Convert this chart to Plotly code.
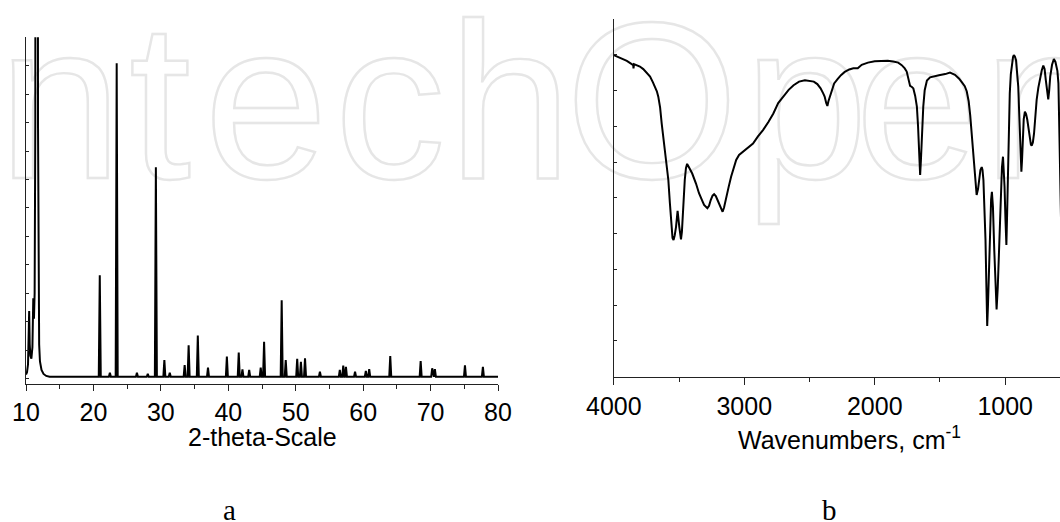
import plotly.graph_objects as go

# ---------------- Panel a : XRD pattern ----------------
# explicit profile of the strong low-angle group (2-theta, intensity)
xrd_low_two_theta = [10.0, 10.15, 10.3, 10.4, 10.47, 10.55, 10.65, 10.8, 10.95, 11.08, 11.18, 11.28,
                     11.38, 11.42, 11.74, 11.78, 11.86, 11.95, 12.07, 12.3, 12.6, 13.0, 13.5]
xrd_low_intensity = [14, 22, 50, 130, 237, 120, 80, 70, 110, 282, 210, 300,
                     900, 2600, 2600, 900, 200, 120, 60, 30, 16, 9, 6]
# sharp reflections
xrd_peak_pos = [20.94, 22.44, 23.45, 26.45, 28.06, 29.26, 30.52, 31.32, 33.53, 34.12, 35.48, 36.99,
                39.79, 41.55, 42.1, 43.1, 44.81, 45.31, 47.92, 48.52, 50.22, 50.77, 51.38, 53.59,
                56.54, 57.05, 57.45, 58.8, 60.4, 60.9, 64.02, 68.53, 70.24, 70.64, 75.1, 77.76]
xrd_peak_int = [363, 20, 1109, 20, 16, 743, 65, 20, 47, 117, 151, 38,
                77, 91, 32, 30, 38, 129, 275, 65, 69, 59, 71, 24,
                30, 45, 41, 24, 27, 33, 79, 61, 36, 33, 46, 41]
xrd_baseline = 6
xrd_end = 80.0

# ---------------- Panel b : IR spectrum ----------------
ir_wavenumber = [4000, 3950, 3900, 3851, 3849, 3845, 3824, 3800, 3774, 3750, 3722, 3700, 3684, 3670,
                 3659, 3645, 3633, 3620, 3608, 3595, 3582, 3570, 3560, 3550, 3542, 3533, 3523, 3511,
                 3498, 3485, 3478, 3472, 3465, 3456, 3447, 3438, 3425, 3399, 3370, 3347, 3320, 3308,
                 3283, 3270, 3257, 3243, 3231, 3218, 3205, 3185, 3166, 3155, 3140, 3120, 3101, 3080,
                 3062, 3040, 3011, 2970, 2933, 2895, 2855, 2815, 2777, 2740, 2700, 2660, 2622, 2580,
                 2535, 2500, 2467, 2440, 2415, 2395, 2384, 2372, 2363, 2355, 2342, 2325, 2311, 2285,
                 2259, 2230, 2195, 2164, 2130, 2100, 2052, 2000, 1947, 1900, 1858, 1820, 1793, 1770,
                 1755, 1740, 1729, 1715, 1704, 1690, 1677, 1668, 1662, 1657, 1652, 1646, 1638, 1628,
                 1617, 1600, 1576, 1550, 1508, 1460, 1423, 1385, 1353, 1330, 1310, 1295, 1280, 1268,
                 1255, 1240, 1228, 1219, 1208, 1198, 1190, 1180, 1174, 1167, 1160, 1151, 1144, 1138,
                 1132, 1125, 1115, 1108, 1102, 1094, 1084, 1075, 1066, 1057, 1047, 1040, 1032, 1025,
                 1017, 1011, 1005, 998, 991, 985, 978, 971, 965, 957, 949, 940, 934, 926, 917,
                 908, 900, 893, 887, 882, 876, 871, 866, 858, 849, 840, 831, 820, 810, 803, 797,
                 788, 779, 770, 759, 746, 733, 720, 708, 698, 689, 680, 670, 663, 655, 641, 627,
                 615, 600, 592, 586, 582, 578, 570]
ir_transmittance = [89.9, 89.2, 88.3, 87.1, 86.2, 87.4, 87.1, 86.7, 86.0, 85.0, 83.9, 82.3, 81.1, 79.8,
                    78.3, 75.2, 70.8, 67.0, 63.4, 59.2, 55.0, 48.5, 42.5, 38.8, 38.2, 39.5, 41.9, 46.4,
                    41.9, 38.4, 40.5, 45.7, 50.5, 55.0, 58.3, 59.5, 58.6, 56.8, 54.0, 51.3, 49.0, 48.0,
                    47.1, 47.8, 49.4, 50.6, 51.0, 50.5, 49.4, 47.5, 46.1, 47.3, 49.4, 53.0, 55.9, 58.5,
                    60.6, 62.0, 62.9, 64.2, 65.2, 67.2, 69.0, 71.2, 73.6, 76.5, 78.3, 80.2, 81.5, 82.5,
                    82.9, 82.8, 82.5, 81.8, 80.6, 79.2, 78.3, 76.5, 75.7, 77.0, 78.3, 80.5, 82.0, 83.2,
                    84.3, 85.2, 85.9, 86.2, 86.2, 87.2, 87.8, 88.2, 88.3, 88.3, 88.1, 87.8, 87.1, 86.2,
                    85.3, 83.0, 81.3, 81.0, 80.6, 78.5, 75.5, 70.0, 64.0, 59.5, 56.4, 60.5, 68.0, 75.5,
                    80.1, 82.8, 83.7, 84.0, 84.3, 84.6, 85.0, 84.4, 83.3, 82.2, 81.2, 79.8, 77.0, 73.0,
                    67.0, 59.0, 53.0, 50.8, 52.5, 55.9, 57.8, 58.6, 57.8, 55.0, 48.0, 38.2, 25.0, 14.2,
                    20.0, 30.8, 43.5, 49.5, 51.7, 47.5, 35.6, 24.5, 18.8, 25.0, 35.6, 44.0, 53.1, 58.5,
                    61.5, 58.5, 53.1, 44.0, 36.8, 46.0, 58.7, 69.0, 79.2, 84.5, 87.6, 89.4, 89.9, 89.5,
                    88.5, 85.5, 81.1, 74.0, 66.2, 60.5, 57.3, 60.5, 66.2, 72.0, 74.1, 73.4, 71.9, 69.0,
                    66.2, 64.9, 64.6, 65.5, 68.0, 72.5, 77.4, 80.8, 83.4, 85.6, 87.0, 86.0, 83.0, 79.5,
                    77.5, 80.0, 83.9, 87.2, 88.8, 88.0, 85.5, 82.0, 72.0, 62.0, 50.0, 40.0]

# ---------------- texts ----------------
xrd_title = "2-theta-Scale"
ir_title = "Wavenumbers, cm<sup>-1</sup>"
panel_labels = ["a", "b"]
watermark_letters = ["n", "t", "e", "c", "h", "O", "p", "e", "n"]
watermark_letter_x = [60, 160, 266, 390, 510, 652, 806, 917, 1045]   # pixel centres of the letters

# build XRD trace from the read values
xrd_x = list(xrd_low_two_theta)
xrd_y = list(xrd_low_intensity)
for p, h in zip(xrd_peak_pos, xrd_peak_int):
    xrd_x += [p - 0.15, p, p + 0.15]
    xrd_y += [xrd_baseline, h, xrd_baseline]
xrd_x.append(xrd_end)
xrd_y.append(xrd_baseline)

W, H = 1060, 522
FONT = "Liberation Sans, Arial, Helvetica, sans-serif"
AX = "#222222"
WM_STYLE = "fill:none;stroke:#e6e6e6;stroke-width:2.4px"

fig = go.Figure()

# watermark on a full-figure pixel subplot drawn first (behind everything)
fig.add_trace(go.Scatter(x=watermark_letter_x, y=[122] * len(watermark_letters), mode="text",
                         text=["<span style='%s'>%s</span>" % (WM_STYLE, c) for c in watermark_letters],
                         textposition="middle center",
                         textfont=dict(family=FONT, size=223, color="#e6e6e6"),
                         xaxis="x", yaxis="y", hoverinfo="skip", cliponaxis=False))

fig.add_trace(go.Scatter(x=xrd_x, y=xrd_y, mode="lines",
                         line=dict(color="black", width=2),
                         xaxis="x2", yaxis="y2", hoverinfo="skip"))
fig.add_trace(go.Scatter(x=ir_wavenumber, y=ir_transmittance, mode="lines",
                         line=dict(color="black", width=2),
                         xaxis="x3", yaxis="y3", hoverinfo="skip"))


def px_x(v):
    return v / W


def px_y(v):
    return (H - v) / H


common_x = dict(showgrid=False, zeroline=False, showline=True, linecolor=AX, linewidth=1.3,
                ticks="outside", tickcolor=AX, tickwidth=1.3, automargin=False,
                tickfont=dict(family=FONT, size=25, color="black"))
common_y = dict(showgrid=False, zeroline=False, showline=True, linecolor=AX, linewidth=1.3,
                ticks="inside", ticklen=3, tickcolor=AX, tickwidth=1, showticklabels=False,
                automargin=False)

fig.update_layout(
    width=W, height=H,
    margin=dict(l=0, r=0, t=0, b=0, pad=0, autoexpand=False),
    paper_bgcolor="white", plot_bgcolor="rgba(0,0,0,0)",
    showlegend=False,
    xaxis=dict(domain=[0, 1], range=[0, W], visible=False, fixedrange=True, automargin=False),
    yaxis=dict(domain=[0, 1], range=[H, 0], visible=False, fixedrange=True, automargin=False),
    xaxis2=dict(domain=[px_x(26), px_x(498)], range=[10, 80], anchor="y2",
                tick0=10, dtick=10, ticklen=6,
                minor=dict(dtick=5, ticklen=4, ticks="outside", tickcolor=AX, tickwidth=1.3),
                **common_x),
    yaxis2=dict(domain=[px_y(384.3), px_y(37.3)], range=[-20.4, 1200], anchor="x2",
                tick0=0, dtick=100, **common_y),
    xaxis3=dict(domain=[px_x(613.8), 1.0], range=[4000, 580], anchor="y3",
                tickvals=[4000, 3000, 2000, 1000], ticktext=["4000", "3000", "2000", "1000"],
                ticklen=7,
                minor=dict(tickvals=[3500, 2500, 1500], ticklen=4, ticks="outside",
                           tickcolor=AX, tickwidth=1.3),
                **common_x),
    yaxis3=dict(domain=[px_y(376.7), px_y(19)], range=[0, 100], anchor="x3",
                tick0=0, dtick=10, **common_y),
    annotations=[
        dict(text=xrd_title, x=px_x(262), y=px_y(437), xref="paper", yref="paper",
             xanchor="center", yanchor="middle", showarrow=False,
             font=dict(family=FONT, size=25, color="black")),
        dict(text=ir_title, x=px_x(849), y=px_y(438), xref="paper", yref="paper",
             xanchor="center", yanchor="middle", showarrow=False,
             font=dict(family=FONT, size=25, color="black")),
        dict(text=panel_labels[0], x=px_x(229), y=px_y(510), xref="paper", yref="paper",
             xanchor="center", yanchor="middle", showarrow=False,
             font=dict(family="Liberation Serif, Times New Roman, serif", size=29, color="black")),
        dict(text=panel_labels[1], x=px_x(829.5), y=px_y(510), xref="paper", yref="paper",
             xanchor="center", yanchor="middle", showarrow=False,
             font=dict(family="Liberation Serif, Times New Roman, serif", size=29, color="black")),
    ],
)

fig.write_html("out.html")
